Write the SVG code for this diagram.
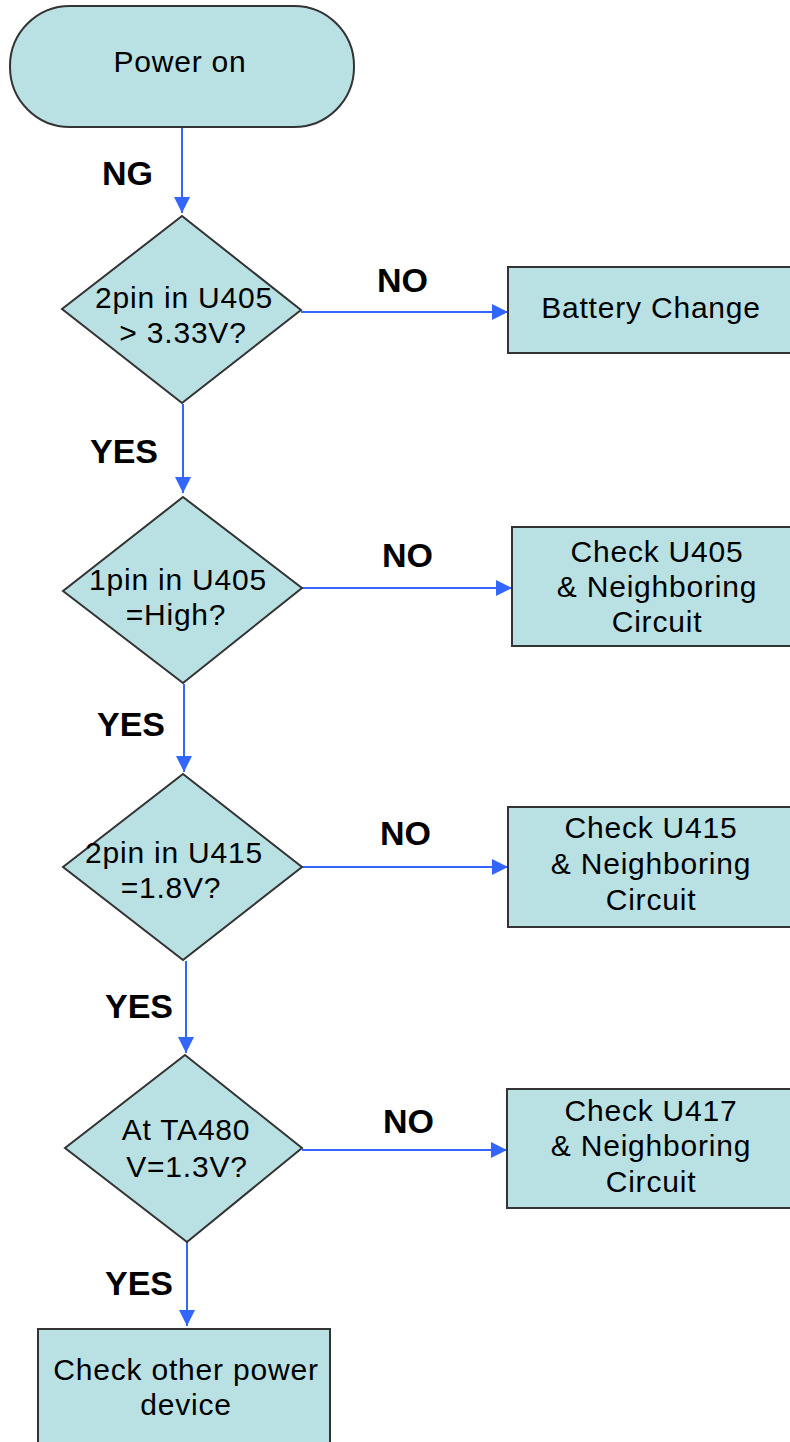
<svg xmlns="http://www.w3.org/2000/svg" width="790" height="1442" viewBox="0 0 790 1442">
<defs>
<style>
.shape{fill:#b9e0e3;stroke:#333333;stroke-width:2}
.t{font-family:"Liberation Sans",Arial,sans-serif;font-size:30px;letter-spacing:0.8px;fill:#000;text-anchor:middle}
.lbl{font-family:"Liberation Sans",Arial,sans-serif;font-size:34px;font-weight:bold;fill:#000}
.conn{stroke:#3366ff;stroke-width:2;fill:none;marker-end:url(#arr)}
</style>
<marker id="arr" viewBox="0 0 16 16" refX="16" refY="8" markerWidth="16" markerHeight="16" markerUnits="userSpaceOnUse" orient="auto">
<path d="M0,0 L16,8 L0,16 z" fill="#3366ff"/>
</marker>
</defs>
<rect width="790" height="1442" fill="#ffffff"/>
<g id="connectors">
<line class="conn" x1="182" y1="127" x2="182" y2="213"/>
<line class="conn" x1="183" y1="404" x2="183" y2="493"/>
<line class="conn" x1="184" y1="684" x2="184" y2="772"/>
<line class="conn" x1="186" y1="961" x2="186" y2="1053"/>
<line class="conn" x1="187" y1="1242" x2="187" y2="1326"/>
<line class="conn" x1="301" y1="312" x2="508" y2="312"/>
<line class="conn" x1="302" y1="588" x2="512" y2="588"/>
<line class="conn" x1="302" y1="867" x2="508" y2="867"/>
<line class="conn" x1="302" y1="1150" x2="507" y2="1150"/>
<text class="lbl" x="102" y="185">NG</text>
<text class="lbl" x="377" y="292">NO</text>
<text class="lbl" x="90" y="463">YES</text>
<text class="lbl" x="382" y="567">NO</text>
<text class="lbl" x="97" y="736">YES</text>
<text class="lbl" x="380" y="845">NO</text>
<text class="lbl" x="105" y="1018">YES</text>
<text class="lbl" x="383" y="1133">NO</text>
<text class="lbl" x="105" y="1295">YES</text>
</g>
<g id="start">
<rect class="shape" x="10" y="6" width="344" height="121" rx="60" ry="60"/>
<text class="t" x="180" y="72">Power on</text>
</g>
<g id="d1">
<polygon class="shape" points="182,216 301,310 182,403 62,309"/>
<text class="t" x="184" y="308">2pin in U405</text>
<text class="t" x="183" y="343">&gt; 3.33V?</text>
</g>
<g id="b1">
<rect class="shape" x="508" y="267" width="292" height="86"/>
<text class="t" x="651" y="318">Battery Change</text>
</g>
<g id="d2">
<polygon class="shape" points="183,497 302,588 183,683 63,591"/>
<text class="t" x="178" y="590">1pin in U405</text>
<text class="t" x="176" y="625">=High?</text>
</g>
<g id="b2">
<rect class="shape" x="512" y="527" width="292" height="119"/>
<text class="t" x="657" y="562">Check U405</text>
<text class="t" x="657" y="597">&amp; Neighboring</text>
<text class="t" x="657" y="632">Circuit</text>
</g>
<g id="d3">
<polygon class="shape" points="183,774 302,867 183,960 63,867"/>
<text class="t" x="174" y="863">2pin in U415</text>
<text class="t" x="171" y="898">=1.8V?</text>
</g>
<g id="b3">
<rect class="shape" x="508" y="807" width="292" height="120"/>
<text class="t" x="651" y="838">Check U415</text>
<text class="t" x="651" y="874">&amp; Neighboring</text>
<text class="t" x="651" y="910">Circuit</text>
</g>
<g id="d4">
<polygon class="shape" points="185,1055 302,1148 187,1242 65,1148"/>
<text class="t" x="186" y="1140">At TA480</text>
<text class="t" x="187" y="1177">V=1.3V?</text>
</g>
<g id="b4">
<rect class="shape" x="507" y="1089" width="292" height="119"/>
<text class="t" x="651" y="1121">Check U417</text>
<text class="t" x="651" y="1156">&amp; Neighboring</text>
<text class="t" x="651" y="1192">Circuit</text>
</g>
<g id="b5">
<rect class="shape" x="38" y="1329" width="292" height="130"/>
<text class="t" x="186" y="1380">Check other power</text>
<text class="t" x="186" y="1415">device</text>
</g>
</svg>
